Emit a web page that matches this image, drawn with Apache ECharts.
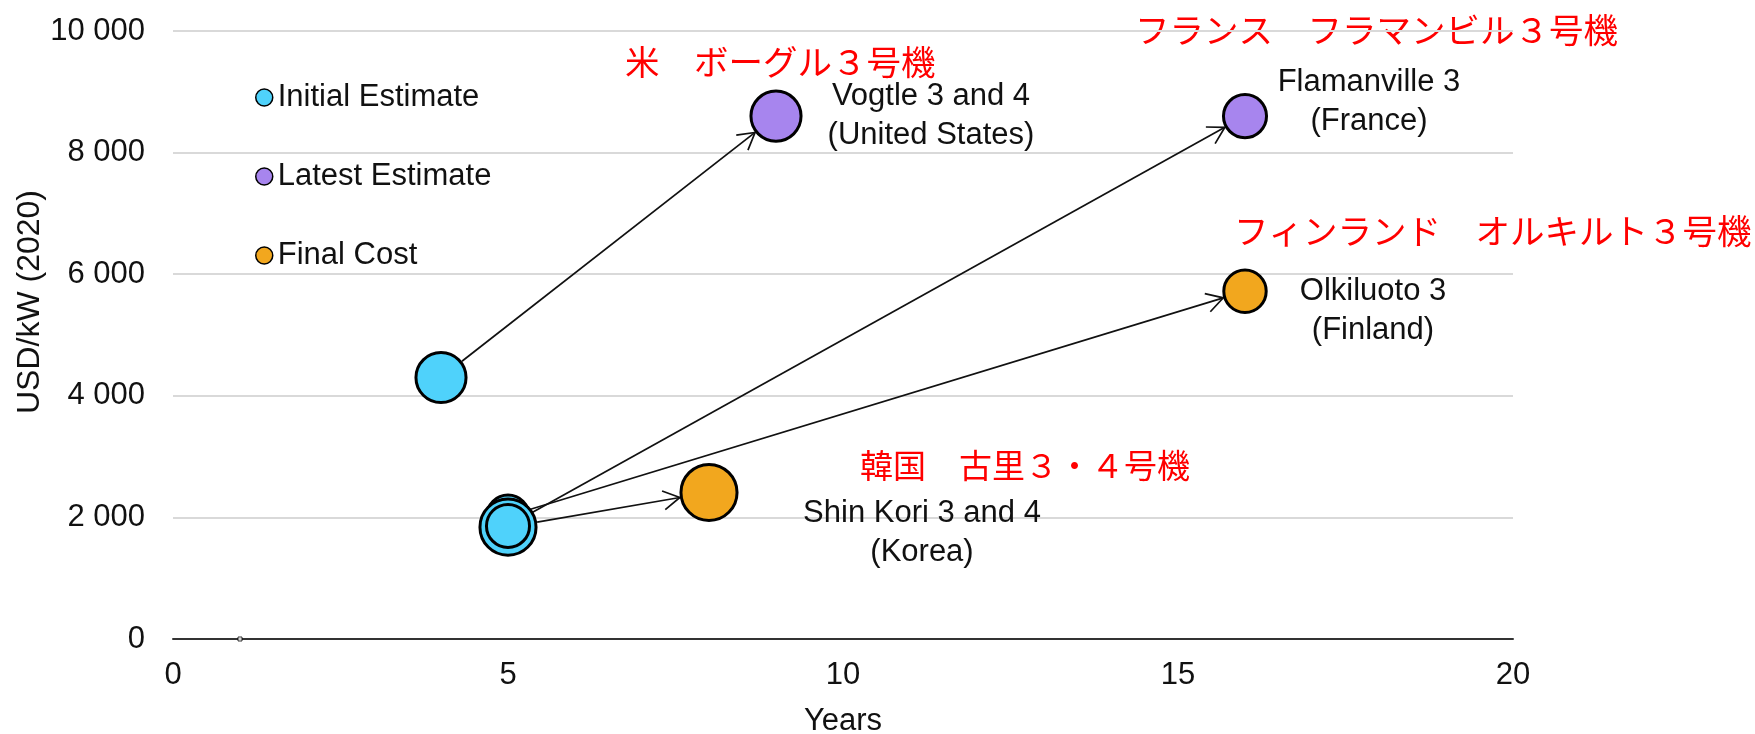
<!DOCTYPE html>
<html>
<head>
<meta charset="utf-8">
<script src="https://cdn.jsdelivr.net/npm/echarts@6/dist/echarts.min.js"></script>
<style>
  html, body { margin: 0; padding: 0; background: #fff; }
  #chart { width: 1755px; height: 734px; }
</style>
</head>
<body>
<div id="chart"></div>
<script>
// 项目（顺序即绘制顺序）
const projects = ['Vogtle 3 and 4', 'Olkiluoto 3', 'Shin Kori 3 and 4', 'Flamanville 3'];
const countries = ['United States', 'Finland', 'Korea', 'France'];
const capacityMW = [2234, 1600, 2800, 1650];

// Initial Estimate
const initialYears = [4, 5, 5, 5];
const initialCost = [4300, 2020, 1840, 1860];

// Latest Estimate
const latestProjects = ['Vogtle 3 and 4', 'Flamanville 3'];
const latestYears = [9, 16];
const latestCost = [8600, 8600];

// Final Cost
const finalProjects = ['Olkiluoto 3', 'Shin Kori 3 and 4'];
const finalYears = [16, 8];
const finalCost = [5720, 2410];

// 横轴上的小点
const strayPoint = [[1, 0]];

// 日文注释
const jpTitles = ['米\u3000ボーグル３号機', 'フィンランド\u3000オルキルト３号機', '韓国\u3000古里３・４号機', 'フランス\u3000フラマンビル３号機'];

const xTicks = [0, 5, 10, 15, 20];
const yTicks = [0, 2000, 4000, 6000, 8000, 10000];

const FONT = "'Liberation Sans', Arial, sans-serif";
const JP_FONT = "'Noto Sans CJK JP', sans-serif";
const colors = { initial: '#4fd2fb', latest: '#a785ee', final: '#f2a71e' };
const BORDER = 3;

// 文字位置（相对气泡中心）
const labelOffset = {
  'Vogtle 3 and 4': [155, 0],
  'Flamanville 3': [124, -14],
  'Olkiluoto 3': [128, 20],
  'Shin Kori 3 and 4': [213, 40]
};
const jpPos = [[625, 62], [1234, 231], [860, 465], [1135, 30]];
const jpFontSize = [34.5, 34.5, 33, 34.5];

const bubbleSize = (mw) => 1.06 * Math.sqrt(mw);
const capOf = (name) => capacityMW[projects.indexOf(name)];

function pointData(names, xs, ys, withLabel) {
  return names.map((name, i) => {
    let idx = projects.indexOf(name);
    let item = { name: name, value: [xs[i], ys[i], capacityMW[idx]] };
    if (withLabel) {
      item.label = {
        show: true,
        position: 'inside',
        offset: labelOffset[name],
        formatter: name + '\n(' + countries[idx] + ')',
        color: '#111',
        fontFamily: FONT,
        fontSize: 31,
        lineHeight: 39,
        align: 'center',
        verticalAlign: 'middle'
      };
    }
    return item;
  });
}

// 箭头：起点 Initial -> 终点 Latest / Final
const arrowData = projects.map((name, i) => {
  let li = latestProjects.indexOf(name);
  let fi = finalProjects.indexOf(name);
  let end = li >= 0 ? [latestYears[li], latestCost[li]] : [finalYears[fi], finalCost[fi]];
  return [initialYears[i], initialCost[i], end[0], end[1], capacityMW[i], capOf(name)];
});

function renderArrow(params, api) {
  let p0 = api.coord([api.value(0), api.value(1)]);
  let p1 = api.coord([api.value(2), api.value(3)]);
  let r0 = bubbleSize(api.value(4)) / 2 + BORDER / 2;
  let r1 = bubbleSize(api.value(5)) / 2 + BORDER / 2;
  let dx = p1[0] - p0[0];
  let dy = p1[1] - p0[1];
  let len = Math.sqrt(dx * dx + dy * dy);
  let ux = dx / len, uy = dy / len;
  let s = [p0[0] + ux * r0, p0[1] + uy * r0];
  let e = [p1[0] - ux * r1, p1[1] - uy * r1];
  let ang = Math.atan2(uy, ux);
  let h = 19, a = Math.PI / 6;
  let l = [e[0] - h * Math.cos(ang - a), e[1] - h * Math.sin(ang - a)];
  let r = [e[0] - h * Math.cos(ang + a), e[1] - h * Math.sin(ang + a)];
  return {
    type: 'group',
    children: [
      { type: 'line', shape: { x1: s[0], y1: s[1], x2: e[0], y2: e[1] }, style: { stroke: '#111', lineWidth: 1.7 } },
      { type: 'polyline', shape: { points: [l, e, r] }, style: { stroke: '#111', lineWidth: 1.7, fill: null } }
    ]
  };
}

const chart = echarts.init(document.getElementById('chart'));

const bubbleStyle = (color) => ({ color: color, borderColor: '#000', borderWidth: BORDER, opacity: 1 });

const option = {
  animation: false,
  backgroundColor: '#fff',
  grid: { left: 173, right: 242, top: 31, bottom: 95, outerBoundsMode: 'none' },
  legend: {
    orient: 'vertical',
    left: 250,
    top: 77,
    itemWidth: 17,
    itemHeight: 17,
    itemGap: 48,
    icon: 'circle',
    itemStyle: { borderColor: '#000', borderWidth: 1.5 },
    textStyle: { color: '#111', fontFamily: FONT, fontSize: 31 },
    data: ['Initial Estimate', 'Latest Estimate', 'Final Cost']
  },
  xAxis: {
    type: 'value',
    min: xTicks[0],
    max: xTicks[xTicks.length - 1],
    interval: 5,
    name: 'Years',
    nameLocation: 'middle',
    nameGap: 67,
    nameTextStyle: { color: '#111', fontFamily: FONT, fontSize: 31 },
    axisLine: { show: true, onZero: false, lineStyle: { color: '#333', width: 2 } },
    axisTick: { show: false },
    splitLine: { show: false },
    axisLabel: { color: '#111', fontFamily: FONT, fontSize: 31, margin: 21 }
  },
  yAxis: {
    type: 'value',
    min: yTicks[0],
    max: yTicks[yTicks.length - 1],
    interval: 2000,
    axisLine: { show: false },
    axisTick: { show: false },
    splitLine: { show: true, lineStyle: { color: '#d9d9d9', width: 2 } },
    axisLabel: {
      color: '#111',
      fontFamily: FONT,
      fontSize: 31,
      margin: 28,
      formatter: (v) => String(v).replace(/\B(?=(\d{3})+(?!\d))/g, ' ')
    }
  },
  series: [
    {
      type: 'custom',
      name: 'arrows',
      renderItem: renderArrow,
      encode: { x: [0, 2], y: [1, 3] },
      data: arrowData,
      z: 1,
      silent: true
    },
    {
      type: 'scatter',
      name: 'Initial Estimate',
      data: pointData(projects, initialYears, initialCost, false),
      symbolSize: (v) => bubbleSize(v[2]),
      itemStyle: bubbleStyle(colors.initial),
      z: 3
    },
    {
      type: 'scatter',
      name: 'Latest Estimate',
      data: pointData(latestProjects, latestYears, latestCost, true),
      symbolSize: (v) => bubbleSize(v[2]),
      itemStyle: bubbleStyle(colors.latest),
      z: 3
    },
    {
      type: 'scatter',
      name: 'Final Cost',
      data: pointData(finalProjects, finalYears, finalCost, true),
      symbolSize: (v) => bubbleSize(v[2]),
      itemStyle: bubbleStyle(colors.final),
      z: 3
    },
    {
      type: 'scatter',
      name: 'stray',
      data: strayPoint,
      symbol: 'rect',
      symbolSize: 4,
      itemStyle: { color: '#fff', borderColor: '#000', borderWidth: 1 },
      z: 4
    }
  ],
  graphic: [
    {
      type: 'text',
      x: 30,
      y: 302,
      rotation: Math.PI / 2,
      style: { text: 'USD/kW (2020)', fill: '#111', font: '32px ' + FONT, textAlign: 'center', textVerticalAlign: 'middle' }
    }
  ].concat(jpTitles.map((t, i) => ({
    type: 'text',
    x: jpPos[i][0],
    y: jpPos[i][1],
    style: { text: t, fill: '#ff0000', font: jpFontSize[i] + 'px ' + JP_FONT, textAlign: 'left', textVerticalAlign: 'middle' }
  })))
};

chart.setOption(option);
</script>
</body>
</html>
